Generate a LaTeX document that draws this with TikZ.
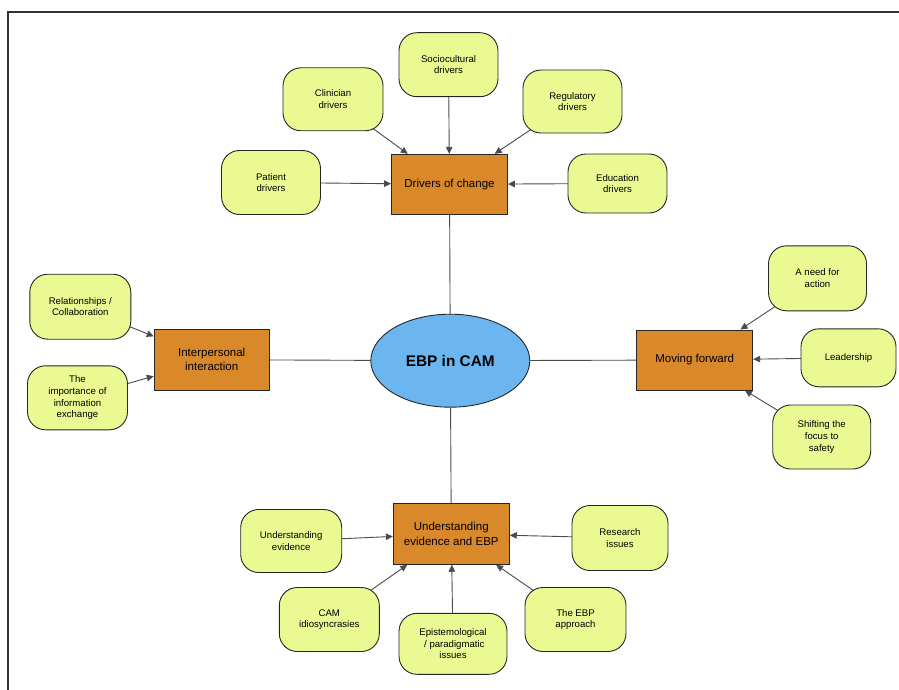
\documentclass[tikz,border=0pt]{standalone}
\usepackage{fontspec}
\setmainfont{Liberation Sans}
\usetikzlibrary{arrows.meta,shapes.geometric}
\pgfdeclarelayer{background}
\pgfsetlayers{background,main}
\definecolor{leafyellow}{RGB}{234,249,145}
\definecolor{huborange}{RGB}{218,137,42}
\definecolor{coreblue}{RGB}{108,182,240}
\definecolor{edgegray}{RGB}{75,75,75}
\tikzset{
  leaf/.style={draw=black!85, line width=0.9pt, fill=leafyellow, rounded corners=18pt,
    align=center, inner sep=0pt, font=\fontsize{9.6}{11.7}\selectfont,
    minimum width=100pt, minimum height=64pt},
  hub/.style={draw=black!85, line width=0.9pt, fill=huborange, align=center, inner sep=0pt,
    font=\fontsize{11.5}{14.3}\selectfont, minimum width=116pt, minimum height=60pt},
  core/.style={ellipse, draw=black!85, line width=0.9pt, fill=coreblue, inner sep=0pt,
    minimum width=159pt, minimum height=93pt, font=\fontsize{15.4}{18}\selectfont\bfseries},
  arr/.style={draw=edgegray, line width=0.9pt, -{Triangle[length=7pt,width=6.5pt]}, shorten <=-8pt},
  link/.style={draw=edgegray, line width=0.9pt}
}
\begin{document}
\begin{tikzpicture}[x=1pt,y=-1pt]
\useasboundingbox (0,0) rectangle (899,690);
\draw[line width=1.6pt, black!80] (899,12) -- (8,12) -- (8,690);

% core
\node[core] (core) at (450.3,360.7) {EBP in CAM};

% hubs
\node[hub] (drv) at (449.5,184.3) {Drivers of change};
\node[hub, minimum width=115pt, minimum height=61pt] (inter) at (211.7,359.7) {Interpersonal\\interaction};
\node[hub] (move) at (694.7,360) {Moving forward};
\node[hub, minimum height=61pt] (under) at (451.3,533.8) {Understanding\\evidence and EBP};

% drivers leaves
\node[leaf, minimum width=99pt] (soc) at (448.5,64.7) {Sociocultural\\drivers};
\node[leaf, minimum height=63pt] (clin) at (333,99.3) {Clinician\\drivers};
\node[leaf, minimum width=99pt, minimum height=63pt] (reg) at (572.5,101.5) {Regulatory\\drivers};
\node[leaf, minimum width=99pt] (pat) at (271,182.5) {Patient\\drivers};
\node[leaf, minimum width=99pt, minimum height=59pt] (edu) at (617.5,183.5) {Education\\drivers};

% interpersonal leaves
\node[leaf, minimum width=101pt, minimum height=65pt] (rel) at (80.3,306.7) {Relationships /\\Collaboration};
\node[leaf] (imp) at (77.5,397.8) {The\\importance of\\information\\exchange};

% moving forward leaves
\node[leaf, minimum width=98pt, minimum height=65pt] (need) at (817.5,278.3) {A need for\\action};
\node[leaf, minimum width=95pt, minimum height=58pt] (lead) at (848.5,357.8) {Leadership};
\node[leaf, minimum width=98pt] (shift) at (821.7,437) {Shifting the\\focus to\\safety};

% understanding leaves
\node[leaf, minimum width=101pt, minimum height=63pt] (uev) at (291.2,541) {Understanding\\evidence};
\node[leaf, minimum width=96pt, minimum height=65pt] (res) at (620,538) {Research\\issues};
\node[leaf] (cam) at (329.3,619.5) {CAM\\idiosyncrasies};
\node[leaf, minimum width=108pt, minimum height=61pt] (epi) at (453,643.8) {Epistemological\\\ / paradigmatic\\issues};
\node[leaf, minimum width=101pt] (ebpa) at (575.5,619.5) {The EBP\\approach};

\begin{pgfonlayer}{background}
% links to core
\draw[link] (drv) -- (core);
\draw[link] (inter) -- (core);
\draw[link] (move) -- (core);
\draw[link] (under) -- (core);

% arrows
\draw[arr] (soc) -- (drv);
\draw[arr] (clin) -- (drv);
\draw[arr] (reg) -- (drv);
\draw[arr] (pat) -- (drv);
\draw[arr] (edu) -- (drv);

\draw[arr] (rel) -- (inter);
\draw[arr] (imp) -- (inter);

\draw[arr] (need) -- (move);
\draw[arr] (lead) -- (move);
\draw[arr] (shift) -- (move);

\draw[arr] (uev) -- (under);
\draw[arr] (res) -- (under);
\draw[arr] (cam) -- (under);
\draw[arr] (epi) -- (under);
\draw[arr] (ebpa) -- (under);
\end{pgfonlayer}
\end{tikzpicture}
\end{document}
